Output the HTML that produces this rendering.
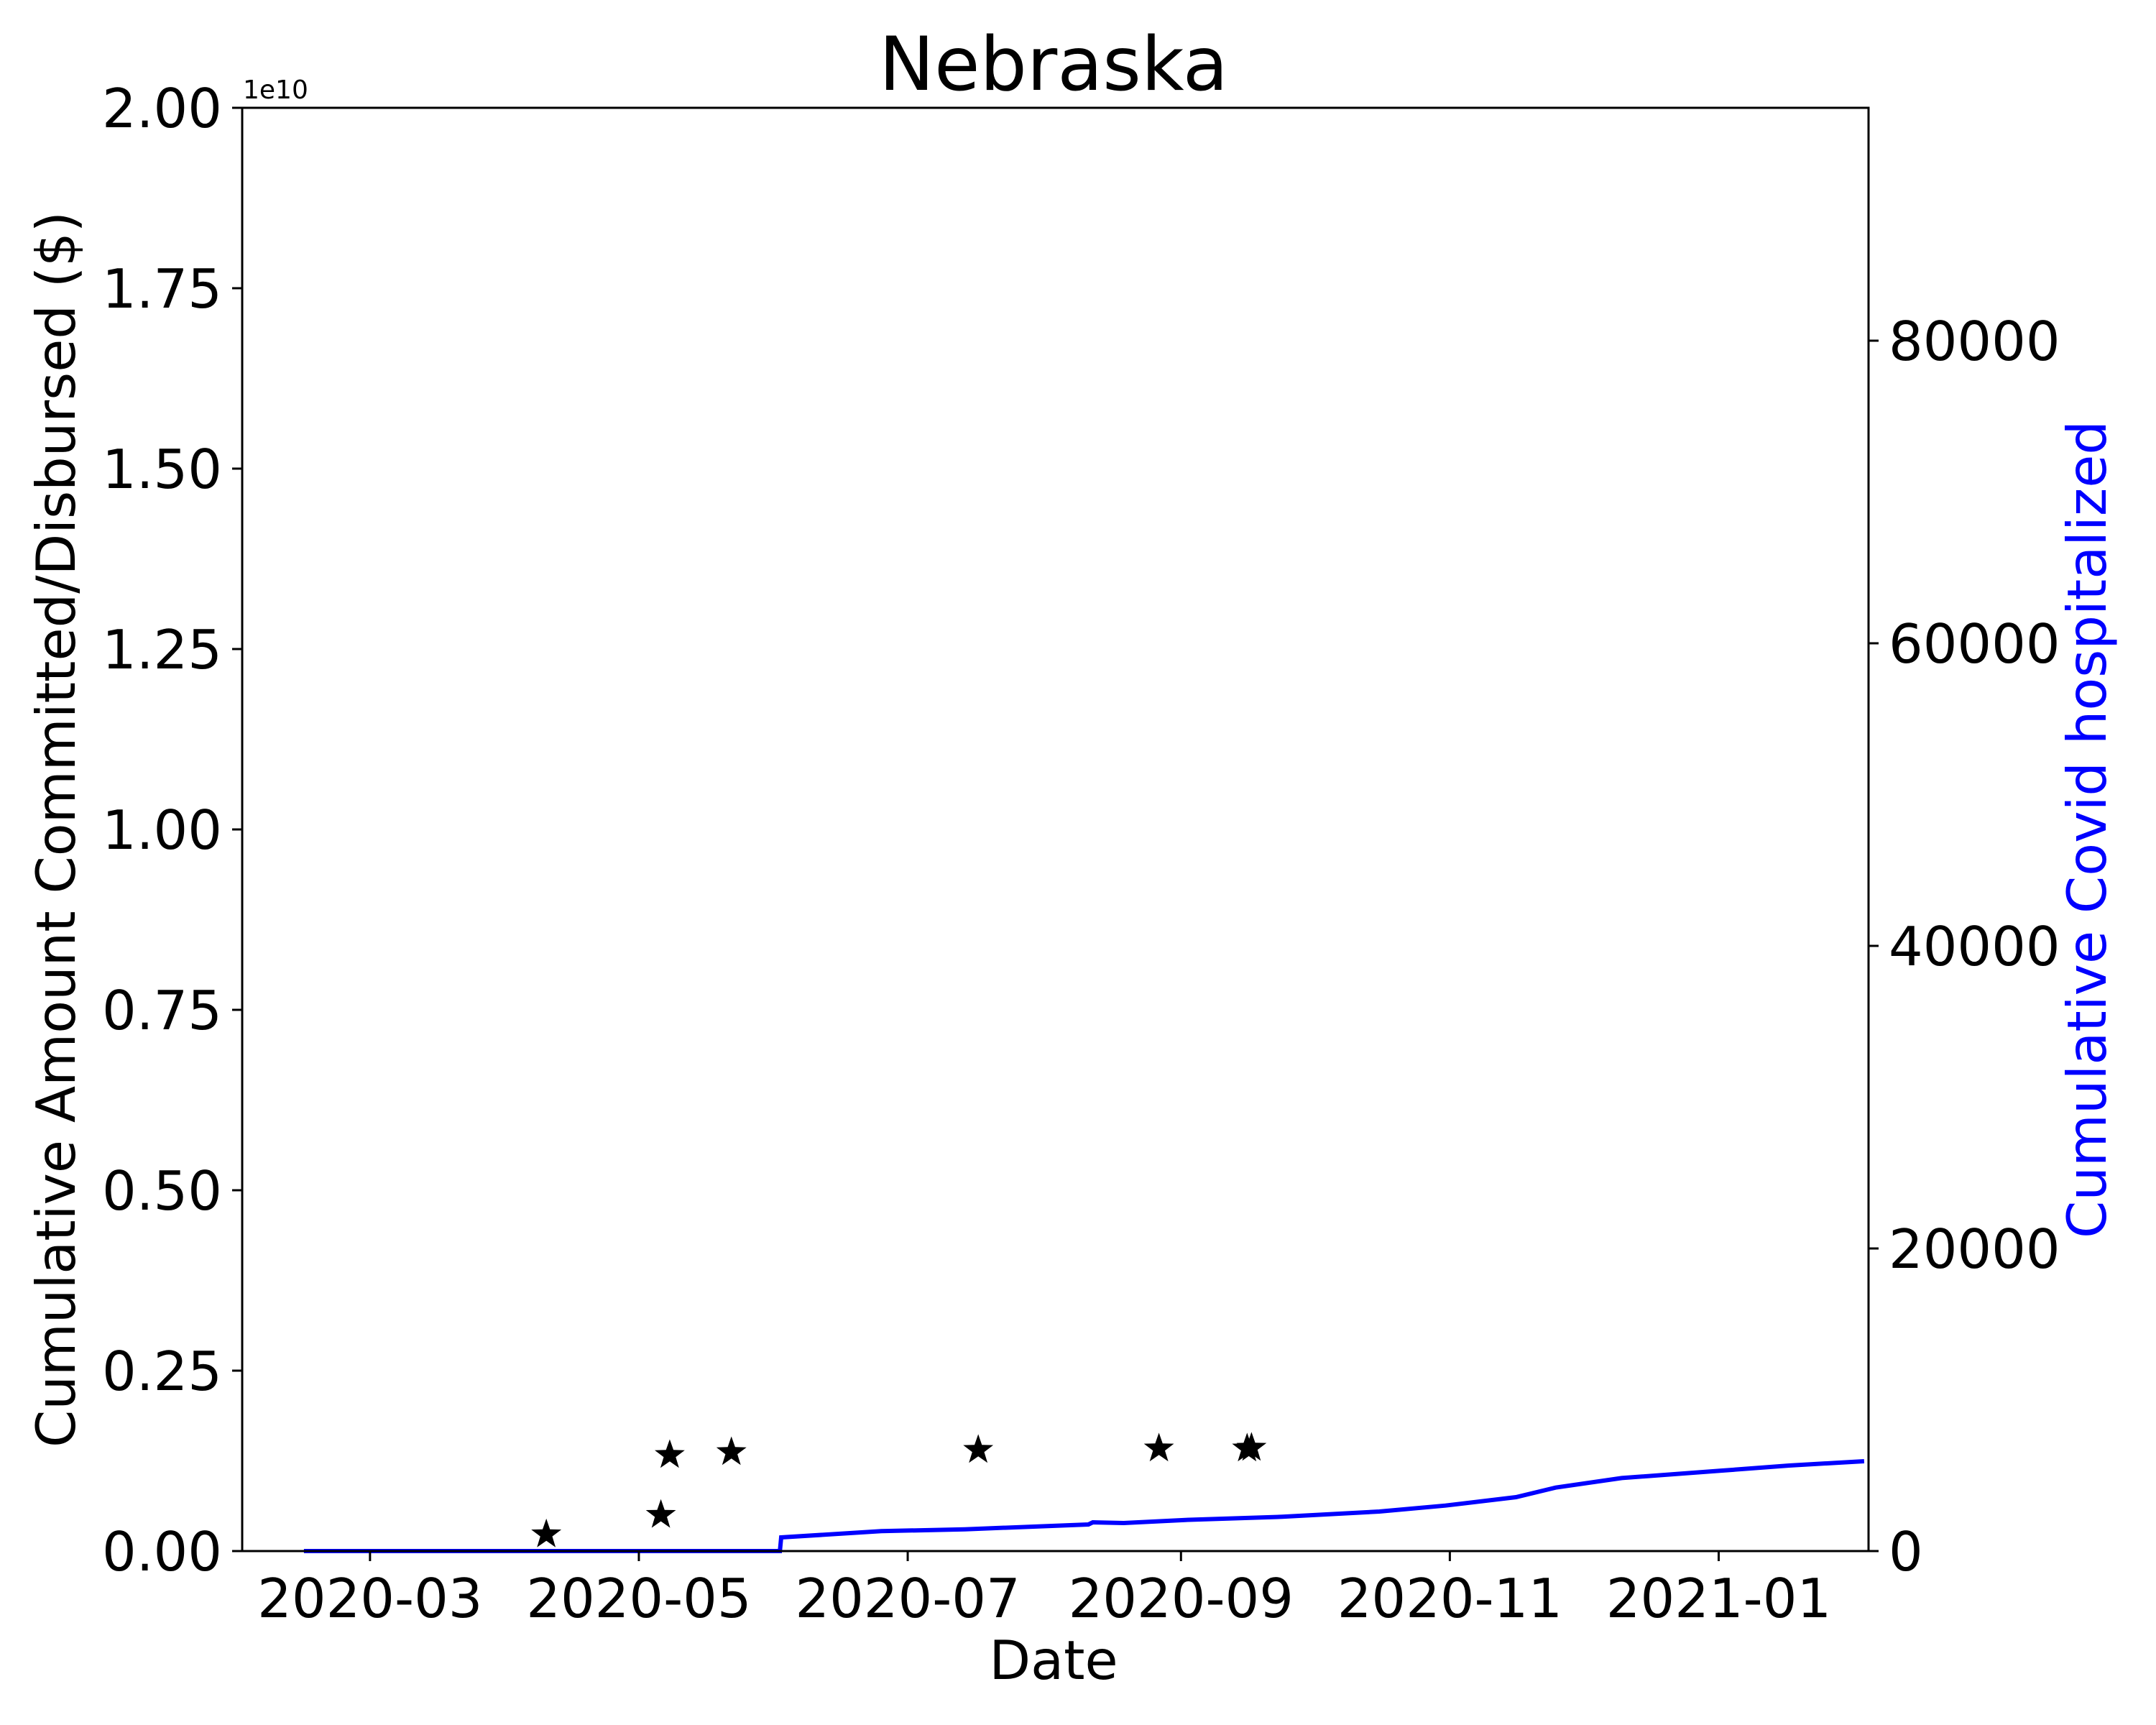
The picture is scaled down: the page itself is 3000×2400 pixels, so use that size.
<!DOCTYPE html>
<html><head><meta charset="utf-8"><style>
html,body{margin:0;padding:0;background:#fff}
svg{display:block;font-family:"DejaVu Sans","Liberation Sans",sans-serif}
</style></head><body>
<svg id="chart" width="3000" height="2400" viewBox="0 0 3000 2400" xmlns="http://www.w3.org/2000/svg">
<rect x="0" y="0" width="3000" height="2400" fill="#fff"/>
<text x="1466" y="125" font-size="103" text-anchor="middle">Nebraska</text>
<text x="338" y="137" font-size="36">1e10</text>
<g id="marks"></g>
<rect x="337" y="150" width="2263" height="2008" fill="none" stroke="#000" stroke-width="3"/>
<g id="axes"></g>
<text x="1466" y="2336" font-size="75" text-anchor="middle">Date</text>
<text transform="translate(104,1154) rotate(-90)" font-size="75" text-anchor="middle">Cumulative Amount Committed/Disbursed ($)</text>
<text transform="translate(2930,1154) rotate(-90)" font-size="75" text-anchor="middle" fill="#0000ff">Cumulative Covid hospitalized</text>
</svg>
<script>
// days relative to 2020-03-01
const xTickDays = [0, 61, 122, 184, 245, 306];
const xTickLabels = ["2020-03","2020-05","2020-07","2020-09","2020-11","2021-01"];
const yLeftTicks = [0,0.25,0.5,0.75,1.0,1.25,1.5,1.75,2.0];
const yLeftLabels = ["0.00","0.25","0.50","0.75","1.00","1.25","1.50","1.75","2.00"];
const yRightTicks = [0,20000,40000,60000,80000];
const starDays = [40, 66, 68, 82, 138, 179, 199, 200];
const starValues = [2.3e8, 5.0e8, 1.33e9, 1.37e9, 1.40e9, 1.42e9, 1.42e9, 1.43e9];
const hospDays = [-15, 93, 93.3, 116, 135, 163, 164, 171, 185, 207, 229, 244, 260, 269, 284, 306, 322, 339];
const hospValues = [0, 0, 902, 1314, 1440, 1757, 1900, 1852, 2058, 2264, 2612, 3008, 3562, 4195, 4828, 5303, 5651, 5936];

const L=337,R=2600,T=150,B=2158;
const dMin=-29, dMax=340;
function X(d){return L+(d-dMin)/(dMax-dMin)*(R-L);}
function YL(v){return B-v/2e10*(B-T);}
function YR(v){return B-v/95392*(B-T);}
const NS="http://www.w3.org/2000/svg";
const marks=document.getElementById('marks'), axes=document.getElementById('axes');
function mk(tag,attrs,parent){const e=document.createElementNS(NS,tag);for(const k in attrs)e.setAttribute(k,attrs[k]);parent.appendChild(e);return e;}

let pts=hospDays.map((d,i)=>X(d).toFixed(1)+','+YR(hospValues[i]).toFixed(1)).join(' ');
const line=mk('polyline',{points:pts,fill:'none',stroke:'#0000ff','stroke-width':6},marks);



function starPath(cx,cy,r){let p=[];for(let i=0;i<10;i++){const a=-Math.PI/2+i*Math.PI/5;const rr=i%2?r*0.4:r;p.push((cx+rr*Math.cos(a)).toFixed(1)+','+(cy+rr*Math.sin(a)).toFixed(1));}return p.join(' ');}
starDays.forEach((d,i)=>{
  const s=mk('polygon',{points:starPath(X(d),YL(starValues[i]),22),fill:'#000'},marks);
  
  
});

xTickDays.forEach((d,i)=>{
  const x=X(d);
  const t=mk('line',{x1:x,x2:x,y1:B,y2:B+14,stroke:'#000','stroke-width':3},axes);
  
  
  const lb=mk('text',{x:x,y:B+92,'font-size':75,'text-anchor':'middle'},axes);
  lb.textContent=xTickLabels[i];
  
  
});
yLeftTicks.forEach((v,i)=>{
  const y=YL(v*1e10);
  const t=mk('line',{x1:L-14,x2:L,y1:y,y2:y,stroke:'#000','stroke-width':3},axes);
  
  
  const lb=mk('text',{x:L-28,y:y+27,'font-size':75,'text-anchor':'end'},axes);
  lb.textContent=yLeftLabels[i];
  
  
});
yRightTicks.forEach(v=>{
  const y=YR(v);
  const t=mk('line',{x1:R,x2:R+14,y1:y,y2:y,stroke:'#000','stroke-width':3},axes);
  
  
  const lb=mk('text',{x:R+28,y:y+27,'font-size':75,'text-anchor':'start'},axes);
  lb.textContent=String(v);
  
  
});
</script>
</body></html>
